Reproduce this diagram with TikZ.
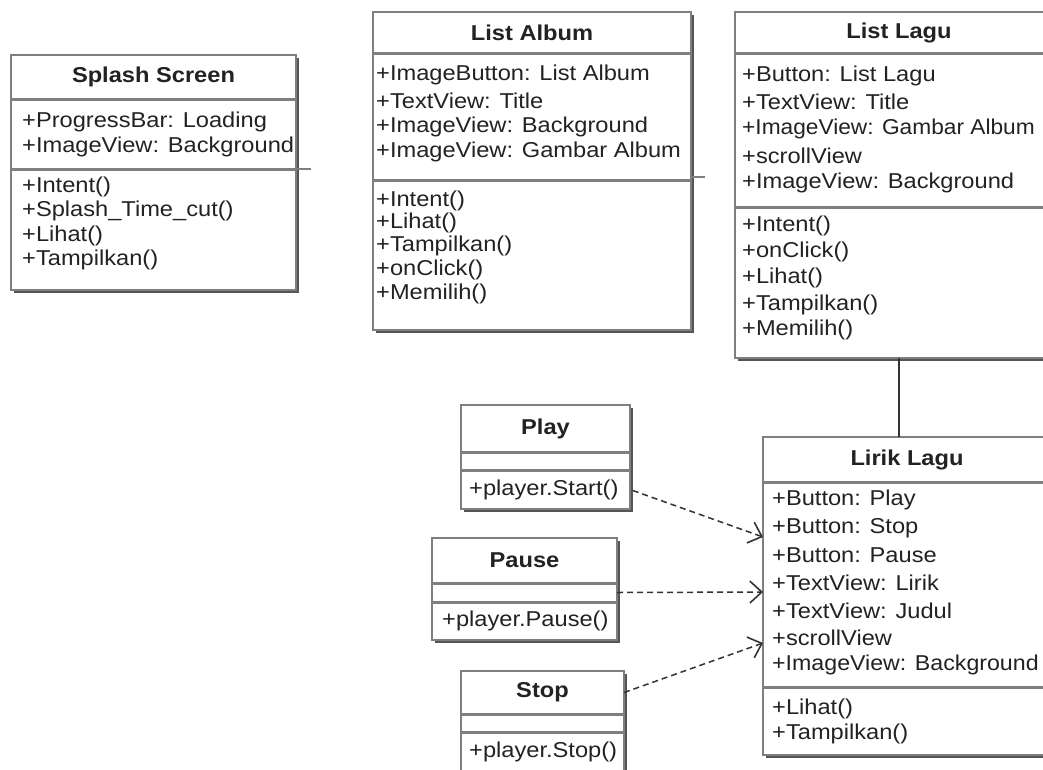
\documentclass[tikz,border=0pt]{standalone}
\usepackage{fontspec}
\usepackage{graphicx}
\setmainfont[FakeStretch=1.1]{Liberation Sans}
\usetikzlibrary{arrows.meta,calc}
\definecolor{bordergray}{HTML}{7F7F7F}
\definecolor{shadowgray}{HTML}{555555}
\definecolor{txt}{HTML}{222222}
\definecolor{linegray}{HTML}{333333}
\tikzset{
  cls/.style={draw=bordergray, line width=2pt, fill=white, inner sep=0pt, outer sep=0pt},
  comp/.style={inner sep=0pt, outer sep=0pt, text=txt, font=\bfseries\fontsize{21.5}{25}\selectfont},
  sepline/.style={draw=bordergray, line width=3pt},
  member/.style={anchor=west, inner sep=0pt, text=txt, font=\fontsize{21.5}{25}\selectfont},
  dep/.style={draw=linegray, line width=1.5pt, dash pattern=on 6pt off 4pt,
    -{Straight Barb[length=12pt,width=22pt,line width=1.6pt]}},
  assoc/.style={draw=linegray, line width=2pt},
  stub/.style={draw=bordergray, line width=2pt}
}
\newcommand{\umlclass}[8]{%
  \fill[shadowgray] (#2+2.5,#4+2.5) rectangle (#3+2.5,#7+2.5);
  \node[cls, anchor=north west, minimum width={(#3-#2)*1pt}, minimum height={(#7-#4)*1pt}] (#1) at (#2,#4) {};
  \node[comp, anchor=north west, minimum width={(#3-#2)*1pt}, minimum height={(#5-#4)*1pt}] (#1-t) at (#2,#4) {#8};
  \node[comp, anchor=north west, minimum width={(#3-#2)*1pt}, minimum height={(#6-#5)*1pt}] (#1-a) at (#2,#5) {};
  \node[comp, anchor=north west, minimum width={(#3-#2)*1pt}, minimum height={(#7-#6)*1pt}] (#1-m) at (#2,#6) {};
  \draw[sepline] (#1-t.south west) -- (#1-t.south east);
  \draw[sepline] (#1-a.south west) -- (#1-a.south east);
}
\begin{document}
\begin{tikzpicture}[x=1pt,y=-1pt]
\useasboundingbox (0,0) rectangle (1043,769);
\fill[white] (0,0) rectangle (1043,769);
\clip (0,0) rectangle (1043,769);

% Splash Screen
\umlclass{splash}{11}{296}{55}{99}{169}{290}{Splash Screen}
\foreach \yy/\mtext [count=\i] in {122/{+ProgressBar: Loading},147/{+ImageView: Background}}
  \node[member] (splash-a\i) at (22,\yy) {\mtext};
\foreach \yy/\mtext [count=\i] in {187/{+Intent()},211/{+Splash\_Time\_cut()},236/{+Lihat()},260/{+Tampilkan()}}
  \node[member] (splash-m\i) at (22,\yy) {\mtext};

% List Album
\umlclass{album}{373}{691}{12}{53}{180}{330}{List Album}
\foreach \yy/\mtext [count=\i] in {75/{+ImageButton: List Album},101/{+TextView: Title},127/{+ImageView: Background},152/{+ImageView: Gambar Album}}
  \node[member] (album-a\i) at (376,\yy) {\mtext};
\foreach \yy/\mtext [count=\i] in {201/{+Intent()},223/{+Lihat()},246/{+Tampilkan()},270/{+onClick()},294/{+Memilih()}}
  \node[member] (album-m\i) at (376,\yy) {\mtext};

% List Lagu
\umlclass{lagu}{735}{1063}{12}{53}{207}{358}{List Lagu}
\foreach \yy/\mtext [count=\i] in {76/{+Button: List Lagu},102/{+TextView: Title},129/{\scalebox{0.96}[1]{+ImageView: Gambar Album}},156/{+scrollView},183/{+ImageView: Background}}
  \node[member] (lagu-a\i) at (742,\yy) {\mtext};
\foreach \yy/\mtext [count=\i] in {226/{+Intent()},252/{+onClick()},278/{+Lihat()},305/{+Tampilkan()},330/{+Memilih()}}
  \node[member] (lagu-m\i) at (742,\yy) {\mtext};

% Lirik Lagu
\umlclass{lirik}{763}{1051}{437}{482}{687}{755}{Lirik Lagu}
\foreach \yy/\mtext [count=\i] in {500/{+Button: Play},528/{+Button: Stop},555/{+Button: Pause},583/{+TextView: Lirik},611/{+TextView: Judul},638/{+scrollView},665/{\scalebox{0.98}[1]{+ImageView: Background}}}
  \node[member] (lirik-a\i) at (772,\yy) {\mtext};
\foreach \yy/\mtext [count=\i] in {709/{+Lihat()},734/{+Tampilkan()}}
  \node[member] (lirik-m\i) at (772,\yy) {\mtext};

% Play
\umlclass{play}{461}{630}{405}{452}{470}{509}{Play}
\node[member] (play-m1) at (469,490) {+player.Start()};
% Pause
\umlclass{pause}{432}{617}{538}{583}{602}{640}{Pause}
\node[member] (pause-m1) at (442,621) {+player.Pause()};
% Stop
\umlclass{stop}{461}{624}{671}{714}{732}{776}{Stop}
\node[member] (stop-m1) at (469,752) {+player.Stop()};

% connectors
\draw[stub] (splash-a.south east) -- ++(15,0);
\draw[stub] ([yshift=3pt]album-a.south east) -- ++(14,0);
\draw[assoc] (lagu-m.south) -- (lagu-m.south |- lirik.north);
\draw[dep, shorten <=3pt] (play-m.east) -- ([yshift=47.5pt]lirik-a.west);
\draw[dep] (pause-a.east) -- ([yshift=-7.5pt]lirik-a.west);
\draw[dep] (stop-t.east) -- ([yshift=-58.5pt]lirik-a.west);
\end{tikzpicture}
\end{document}
